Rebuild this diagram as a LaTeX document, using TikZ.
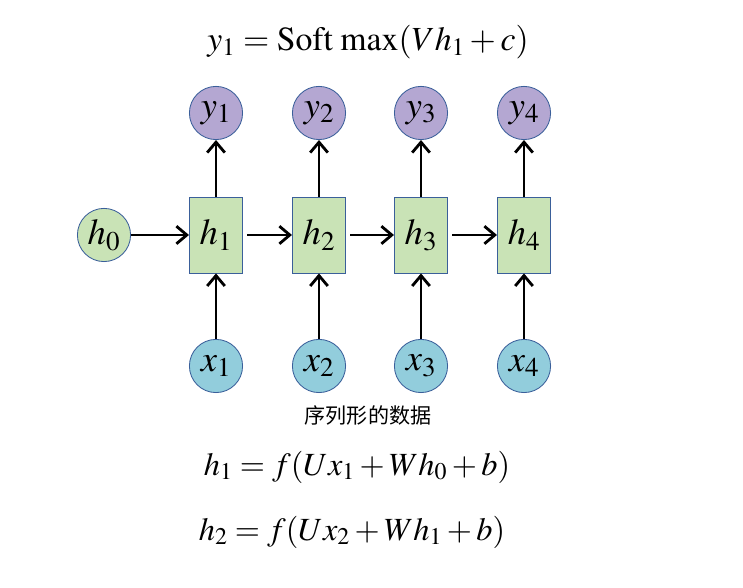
\documentclass[tikz,border=0pt]{standalone}
\usepackage{mathptmx}
\usepackage{fontspec}
\setmainfont{Liberation Serif}
\newfontfamily\cjk{Noto Sans CJK SC}
\usepackage{tikz}
\usetikzlibrary{arrows.meta, positioning}
\definecolor{RNNPurple}{HTML}{B4A7D2}
\definecolor{RNNGreen}{HTML}{C9E3B6}
\definecolor{RNNBlue}{HTML}{92CDDC}
\definecolor{RNNEdge}{HTML}{3A5F9A}
\tikzset{
    % Node styles
    outnode/.style={
        circle,
        draw=RNNEdge,
        fill=RNNPurple,
        line width=0.6pt,
        minimum size=1.33cm,
        inner sep=0pt,
        font=\fontsize{26}{30}\selectfont
    },
    innode/.style={
        outnode,
        fill=RNNBlue
    },
    initnode/.style={
        outnode,
        fill=RNNGreen
    },
    hiddenbox/.style={
        rectangle,
        draw=RNNEdge,
        fill=RNNGreen,
        line width=0.6pt,
        minimum width=1.33cm,
        minimum height=1.9cm,
        inner sep=0pt,
        font=\fontsize{26}{30}\selectfont
    },
    % Arrow styles
    myarrow/.style={
        -{Straight Barb[length=2.6mm,width=4.4mm]},
        line width=2pt,
        black
    },
    formula/.style={
        font=\fontsize{23}{28}\selectfont
    }
}
\begin{document}
\begin{tikzpicture}
    \useasboundingbox (0,0) rectangle (18.575,-14.7);

    % Formula on top
    \node[formula,font=\fontsize{24}{28}\selectfont] (fy) at (9.2,-1.05) {$y_1 = \mathrm{Soft\;max}(Vh_1 + c)$};

    % Outputs
    \node[outnode] (y1) at (5.4,-2.825) {$y_1$};
    \node[outnode] (y2) at (7.975,-2.825) {$y_2$};
    \node[outnode] (y3) at (10.525,-2.825) {$y_3$};
    \node[outnode] (y4) at (13.1,-2.825) {$y_4$};

    % Hidden states
    \node[initnode] (h0) at (2.6,-5.875) {$h_0$};
    \node[hiddenbox] (h1) at (5.4,-5.875) {$h_1$};
    \node[hiddenbox] (h2) at (7.975,-5.875) {$h_2$};
    \node[hiddenbox] (h3) at (10.525,-5.875) {$h_3$};
    \node[hiddenbox] (h4) at (13.1,-5.875) {$h_4$};

    % Inputs
    \node[innode] (x1) at (5.4,-9.15) {$x_1$};
    \node[innode] (x2) at (7.975,-9.15) {$x_2$};
    \node[innode] (x3) at (10.525,-9.15) {$x_3$};
    \node[innode] (x4) at (13.1,-9.15) {$x_4$};

    % Arrows
    \draw[myarrow] (h0.east) -- (h1.west);
    \draw[myarrow] ([xshift=1mm]h1.east) -- (h2.west);
    \draw[myarrow] ([xshift=1mm]h2.east) -- (h3.west);
    \draw[myarrow] ([xshift=1mm]h3.east) -- (h4.west);
    \draw[myarrow] (h1.north) -- (y1.south);
    \draw[myarrow] (h2.north) -- (y2.south);
    \draw[myarrow] (h3.north) -- (y3.south);
    \draw[myarrow] (h4.north) -- (y4.south);
    \draw[myarrow] (x1.north) -- (h1.south);
    \draw[myarrow] (x2.north) -- (h2.south);
    \draw[myarrow] (x3.north) -- (h3.south);
    \draw[myarrow] (x4.north) -- (h4.south);

    % Caption and formulas
    \node[font=\cjk\fontsize{15}{18}\selectfont] (cap) at (9.2,-10.4) {序列形的数据};
    \node[formula] (fh1) at (8.925,-11.675) {$h_1 = f(Ux_1 + Wh_0 + b)$};
    \node[formula] (fh2) at (8.8,-13.3) {$h_2 = f(Ux_2 + Wh_1 + b)$};
\end{tikzpicture}
\end{document}
